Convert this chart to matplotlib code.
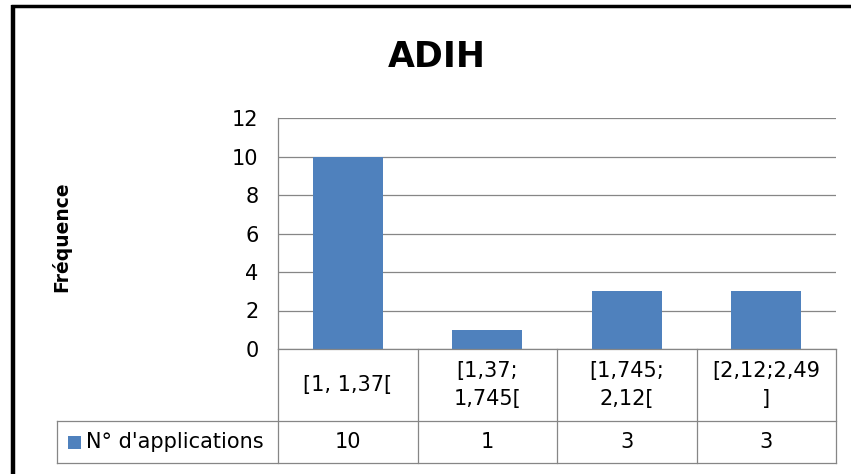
import matplotlib.pyplot as plt
from matplotlib.lines import Line2D
from matplotlib.patches import Rectangle
import matplotlib.transforms as mtransforms

plt.rcParams['font.family'] = ['DejaVu Sans']

categories = ['[1, 1,37[', '[1,37;\n1,745[', '[1,745;\n2,12[', '[2,12;2,49\n]']
values = [10, 1, 3, 3]
series_name = "N° d'applications"
yticks = [0, 2, 4, 6, 8, 10, 12]

BLUE = '#4f81bd'
GRID = '#868686'
FS = 15

W, H = 851, 474
fig = plt.figure(figsize=(W / 100, H / 100), dpi=100)

# plot area in pixels
left, right, top, bottom = 278, 836, 118, 349
ax = fig.add_axes([left / W, 1 - bottom / H, (right - left) / W, (bottom - top) / H])

x = list(range(len(categories)))
ax.bar(x, values, width=0.5, color=BLUE, zorder=3)
ax.set_xlim(-0.5, len(categories) - 0.5)
ax.set_ylim(0, 12)
ax.set_yticks(yticks)
ax.set_yticklabels([str(t) for t in yticks], fontsize=FS)
ax.tick_params(axis='y', length=0, pad=14)
ax.set_xticks([])
ax.yaxis.grid(True, color=GRID, linewidth=0.9)
ax.set_axisbelow(True)
for s in ['top', 'right', 'bottom']:
    ax.spines[s].set_visible(False)
ax.spines['left'].set_color(GRID)
ax.spines['left'].set_linewidth(0.9)

ax.set_ylabel('Fréquence', fontsize=13.5, fontweight='bold', labelpad=0)
ax.yaxis.set_label_coords(71 / W, 0.5, transform=fig.transFigure)

fig.text(437 / W, 1 - 57 / H, 'ADIH', fontsize=25, fontweight='bold',
         ha='center', va='center')

# data table under the axis
trans = mtransforms.blended_transform_factory(ax.transData, fig.transFigure)
ftrans = fig.transFigure
r0, r1, r2 = 1 - 349 / H, 1 - 421 / H, 1 - 463 / H
xl = 57 / W
xr = len(categories) - 0.5

lines = [
    ([-0.5, xr], [r0, r0], trans),
    ([xl, right / W], [r1, r1], ftrans),
    ([xl, right / W], [r2, r2], ftrans),
    ([xl, xl], [r1, r2], ftrans),
]
for xs, ys, tr in lines:
    fig.add_artist(Line2D(xs, ys, transform=tr, color=GRID, linewidth=0.9))
for i in range(len(categories) + 1):
    b = i - 0.5
    fig.add_artist(Line2D([b, b], [r0, r2], transform=trans, color=GRID, linewidth=0.9))

for i, (c, v) in enumerate(zip(categories, values)):
    fig.text(i, (r0 + r1) / 2, c, transform=trans, ha='center', va='center',
             fontsize=FS, linespacing=1.55)
    fig.text(i, (r1 + r2) / 2, str(v), transform=trans, ha='center', va='center',
             fontsize=FS)

fig.add_artist(Rectangle((68 / W, 1 - 449 / H), 13 / W, 13 / H, transform=ftrans,
                         facecolor=BLUE, edgecolor='none'))
fig.text(86 / W, (r1 + r2) / 2, series_name, ha='left', va='center', fontsize=FS)

# outer chart border (left and top only visible)
fig.add_artist(Line2D([13 / W, 13 / W], [0, 1 - 5 / H], transform=ftrans,
                      color='black', linewidth=3.2, solid_capstyle='butt'))
fig.add_artist(Line2D([11 / W, 1], [1 - 6 / H, 1 - 6 / H], transform=ftrans,
                      color='black', linewidth=2.5, solid_capstyle='butt'))

fig.savefig('out.png', dpi=100)
